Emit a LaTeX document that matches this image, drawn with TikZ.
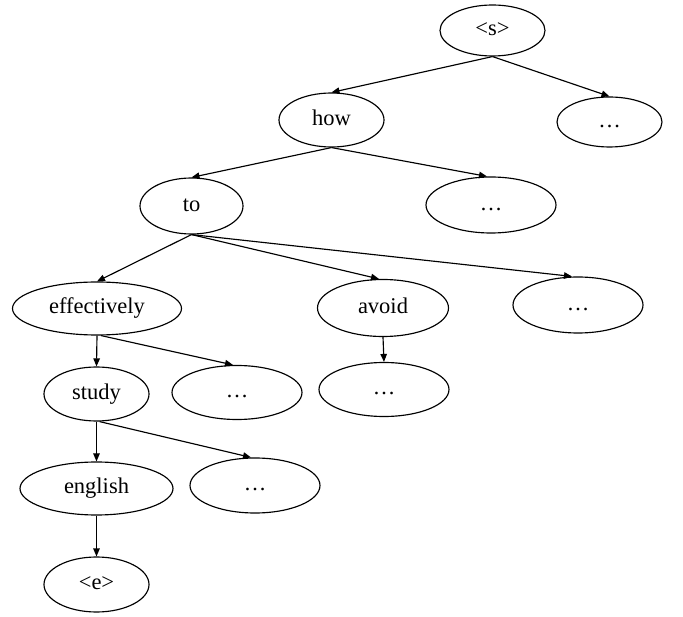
\documentclass[tikz,border=0pt]{standalone}
\usepackage{fontspec}
\setmainfont{Liberation Serif}
\usetikzlibrary{shapes.geometric,arrows.meta}
\begin{document}
\begin{tikzpicture}[x=1pt,y=-1pt,
  tok/.style={draw, ellipse, line width=1.15pt, inner sep=0pt, minimum width=105pt, minimum height=54pt, text height=15pt, text depth=4.5pt, font=\fontsize{22.5}{24}\selectfont},
  wide/.style={tok, minimum width=130pt},
  edge/.style={line width=1.15pt, -{Triangle[length=8pt,width=6.5pt]}}]
\useasboundingbox (0,0) rectangle (683,617);
\node[tok, minimum height=51pt] (s) at (492.5,30.5) {\textless{}s\textgreater};
\node[tok] (how) at (331.5,120) {how};
\node[tok, minimum height=50pt] (d0) at (609.5,122) {…};
\node[tok, minimum width=103pt, minimum height=56pt] (to) at (191.5,206) {to};
\node[wide, minimum height=56pt] (d1) at (491,205) {…};
\node[tok, minimum width=169pt, minimum height=53pt] (eff) at (97,308.5) {effectively};
\node[wide, minimum width=131pt, minimum height=57pt] (avoid) at (383,308) {avoid};
\node[wide, minimum height=56pt] (d2) at (578,305) {…};
\node[tok] (study) at (96.5,394) {study};
\node[wide] (d3) at (237,392.5) {…};
\node[wide] (d4) at (384,389.5) {…};
\node[tok, minimum width=153pt, minimum height=53pt] (eng) at (96.5,488.5) {english};
\node[wide, minimum height=55pt] (d5) at (255,485.5) {…};
\node[tok, minimum height=55pt] (e) at (96.5,584.5) {\textless{}e\textgreater};
\draw[edge] (s.south) -- (how.north);
\draw[edge] (s.south) -- (d0.north);
\draw[edge] (how.south) -- (to.north);
\draw[edge] (how.south) -- ([xshift=-4pt]d1.north);
\draw[edge] (to.south) -- (eff.north);
\draw[edge] (to.south) -- ([xshift=-4pt]avoid.north);
\draw[edge] (to.south) -- ([xshift=-6pt]d2.north);
\draw[edge] (eff.south) -- (study.north);
\draw[edge] ([xshift=4pt]eff.south) -- ([xshift=-4pt]d3.north);
\draw[edge] (avoid.south) -- (d4.north);
\draw[edge] (study.south) -- (eng.north);
\draw[edge] ([xshift=3pt]study.south) -- ([xshift=-4pt]d5.north);
\draw[edge] (eng.south) -- (e.north);
\end{tikzpicture}
\end{document}
